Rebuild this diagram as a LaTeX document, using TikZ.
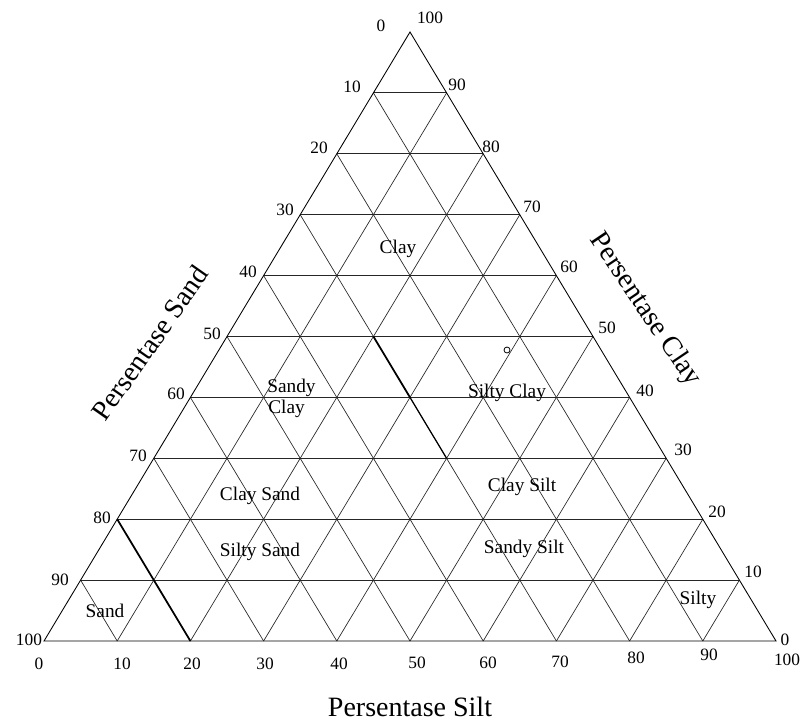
\documentclass[tikz,border=0pt]{standalone}
\usepackage{fontspec}
\setmainfont{Liberation Serif}
\usetikzlibrary{calc}
\begin{document}
\begin{tikzpicture}[x=0.75pt,y=-0.75pt,
  gridline/.style={line width=0.5pt,black!85},
  hgridline/.style={line width=0.75pt,black!85},
  outline/.style={line width=0.65pt,black},
  bound/.style={line width=1.3pt,black},
  tick/.style={font=\fontsize{13}{15}\selectfont,inner sep=0pt},
  region/.style={font=\fontsize{14.5}{16}\selectfont,inner sep=0pt},
  title/.style={font=\fontsize{21}{24}\selectfont,inner sep=0pt}]
\useasboundingbox[fill=white] (0,0) rectangle (803,722);
\foreach \k in {0,...,10}{
  \coordinate (L\k) at ({44+36.6*\k},{641-60.9*\k});
  \coordinate (R\k) at ({776-36.6*\k},{641-60.9*\k});
  \coordinate (B\k) at ({44+73.2*\k},641);
}
% grid
\foreach \k in {1,...,9}{
  \pgfmathtruncatemacro{\j}{10-\k}
  \draw[hgridline] (L\k) -- (R\k);
  \draw[gridline] (L\k) -- (B\k);
  \draw[gridline] (R\k) -- (B\j);
}
\draw[outline] (B0) -- (L10) -- (B10) -- cycle;
% boundaries
\draw[bound] (L2) -- (B2);
\draw[bound] ($(L7)!2/7!(B7)$) -- ($(L7)!3/7!(B7)$);
\draw[line width=0.9pt] ($(L7)!3/7!(B7)$) -- ($(L7)!4/7!(B7)$);
\node[draw,circle,minimum size=4.5pt,inner sep=0pt,line width=0.6pt] (dot) at (507,350) {};
% left ticks
\foreach \v/\x/\y [count=\i] in {0/381/26, 10/352/87, 20/319/148, 30/285/210, 40/248/272, 50/212/334, 60/176/394, 70/138/456, 80/102/518, 90/60/580, 100/29/640}
  \node[tick] (lt\i) at (\x,\y) {\v};
% right ticks
\foreach \v/\x/\y [count=\i] in {100/430/18, 90/457/85, 80/491/147, 70/532/207, 60/569/267, 50/607/328, 40/645/391, 30/683/450, 20/717/512, 10/753/572, 0/785/640}
  \node[tick] (rt\i) at (\x,\y) {\v};
% bottom ticks
\foreach \v/\x/\y [count=\i] in {0/39/664, 10/122/664, 20/192/664, 30/265/664, 40/339/664, 50/417/663, 60/488/663, 70/560/662, 80/636/658, 90/709/655, 100/787/660}
  \node[tick] (bt\i) at (\x,\y) {\v};
% regions
\node[region,anchor=base] (rclay) at (398,253) {Clay};
\node[region,anchor=base west] (rsandy) at (267,392) {Sandy};
\node[region,anchor=base west] (rsandyclay) at (268,413) {Clay};
\node[region,anchor=base] (rsiltyclay) at (507,397) {Silty Clay};
\node[region,anchor=base] (rclaysand) at (260,500) {Clay Sand};
\node[region,anchor=base] (rclaysilt) at (522,491) {Clay Silt};
\node[region,anchor=base] (rsiltysand) at (260,556) {Silty Sand};
\node[region,anchor=base] (rsandysilt) at (524,553) {Sandy Silt};
\node[region,anchor=base] (rsand) at (105,617) {Sand};
\node[region,anchor=base] (rsilty) at (698,604) {Silty};
% titles
\node[title,anchor=base] (tsilt) at (410,716) {Persentase Silt};
\node[title,rotate=55] (tsand) at (150,343) {Persentase Sand};
\node[title,rotate=-56] (tclay) at (645,310) {Persentase Clay};
\end{tikzpicture}
\end{document}
